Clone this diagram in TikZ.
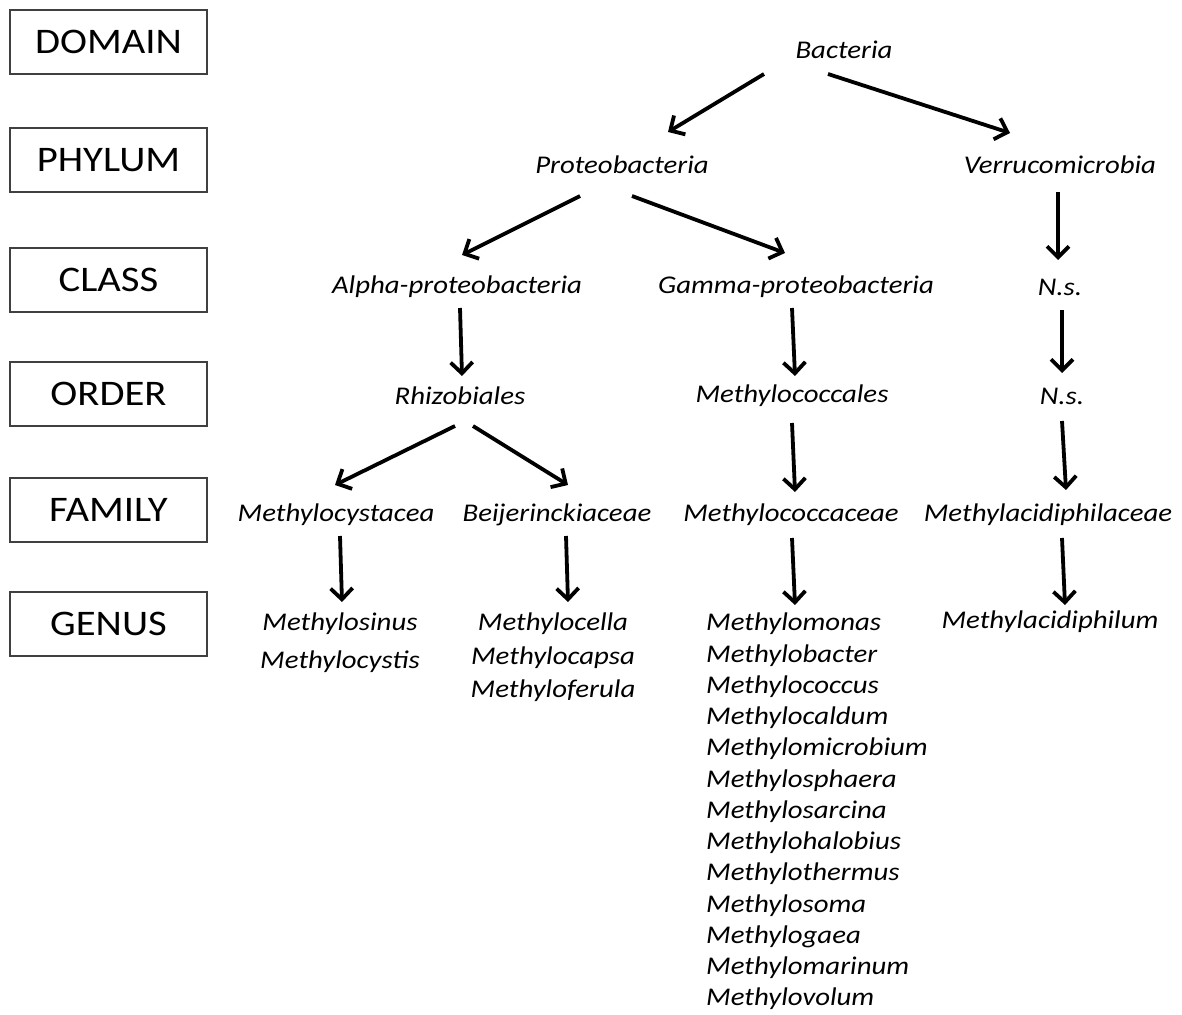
\documentclass[tikz,border=0pt]{standalone}
\usepackage{fontspec}
\setmainfont{Carlito}[FakeStretch=1.13]
\usetikzlibrary{arrows.meta}
\tikzset{
  rank/.style={draw=black!75, line width=1.2pt, minimum width=197pt, minimum height=64pt, inner sep=0pt, font=\fontsize{36}{40}\selectfont},
  taxon/.style={inner sep=0pt, font=\fontsize{25.5}{30}\selectfont\itshape},
  genlist/.style={inner sep=0pt, align=left, font=\fontsize{25.5}{31.25}\selectfont\itshape},
  arr/.style={line width=3.8pt, -{Straight Barb[length=11pt,width=22pt,line width=3.8pt]}},
}
\begin{document}
\begin{tikzpicture}[x=1pt,y=-1pt]
\useasboundingbox (0,0) rectangle (1182,1014);
% rank boxes
\node[rank] (rdom) at (108.5,42) {DOMAIN};
\node[rank] (rphy) at (108.5,160) {PHYLUM};
\node[rank] (rcla) at (108.5,280) {CLASS};
\node[rank] (rord) at (108.5,394) {ORDER};
\node[rank] (rfam) at (108.5,510) {FAMILY};
\node[rank] (rgen) at (108.5,624) {GENUS};
% taxa
\node[taxon] (bac) at (844,50) {Bacteria};
\node[taxon] (pro) at (622,165) {Proteobacteria};
\node[taxon] (ver) at (1060,165) {Verrucomicrobia};
\node[taxon] (alp) at (457,287) {Alpha-proteobacteria};
\node[taxon] (gam) at (796,287) {Gamma-proteobacteria};
\node[taxon] (ns1) at (1060,287) {N.s.};
\node[taxon] (rhi) at (460,396) {Rhizobiales};
\node[taxon] (mco) at (792,396) {Methylococcales};
\node[taxon] (ns2) at (1062,396) {N.s.};
\node[taxon] (mcy) at (336,515) {Methylocystacea};
\node[taxon] (bei) at (557,515) {Beijerinckiaceae};
\node[taxon] (mcc) at (791,515) {Methylococcaceae};
\node[taxon] (mad) at (1048,515) {Methylacidiphilaceae};
\node[genlist, align=center, anchor=north, font=\fontsize{25.5}{38}\selectfont\itshape] (g1) at (340,613) {Methylosinus\\Methylocystis};
\node[genlist, align=center, anchor=north, font=\fontsize{25.5}{33.5}\selectfont\itshape] (g2) at (553,613) {Methylocella\\Methylocapsa\\Methyloferula};
\node[genlist, anchor=north west] (g3) at (706,613) {Methylomonas\\Methylobacter\\Methylococcus\\Methylocaldum\\Methylomicrobium\\Methylosphaera\\Methylosarcina\\Methylohalobius\\Methylothermus\\Methylosoma\\Methylogaea\\Methylomarinum\\Methylovolum};
\node[taxon] (g4) at (1050,622) {Methylacidiphilum};
% arrows
\draw[arr] ([shift={(-80,24)}]bac.center) -- ([shift={(46,-33)}]pro.center);
\draw[arr] ([shift={(-16,24)}]bac.center) -- ([shift={(-50,-32)}]ver.center);
\draw[arr] ([shift={(-42,31)}]pro.center) -- ([shift={(5,-32)}]alp.center);
\draw[arr] ([shift={(10,31)}]pro.center) -- ([shift={(-11,-34)}]gam.center);
\draw[arr] ([shift={(-2,27)}]ver.center) -- ([shift={(-2,-27)}]ns1.center);
\draw[arr] ([shift={(2,23)}]ns1.center) -- ([shift={(0,-23)}]ns2.center);
\draw[arr] ([shift={(0,25)}]ns2.center) -- ([shift={(18,-25)}]mad.center);
\draw[arr] ([shift={(3,21)}]alp.center) -- ([shift={(2,-20)}]rhi.center);
\draw[arr] ([shift={(-4,21)}]gam.center) -- ([shift={(3,-20)}]mco.center);
\draw[arr] ([shift={(-5,30)}]rhi.center) -- ([shift={(-1,-30)}]mcy.center);
\draw[arr] ([shift={(13,30)}]rhi.center) -- ([shift={(11,-30)}]bei.center);
\draw[arr] ([shift={(0,27)}]mco.center) -- ([shift={(4,-23)}]mcc.center);
\draw[arr] ([shift={(4,21)}]mcy.center) -- ([shift={(2,-11)}]g1.north);
\draw[arr] ([shift={(9,21)}]bei.center) -- ([shift={(15,-11)}]g2.north);
\draw[arr] ([shift={(1,23)}]mcc.center) -- ([shift={(89,-8)}]g3.north west);
\draw[arr] ([shift={(14,23)}]mad.center) -- ([shift={(15,-17)}]g4.center);
\end{tikzpicture}
\end{document}
